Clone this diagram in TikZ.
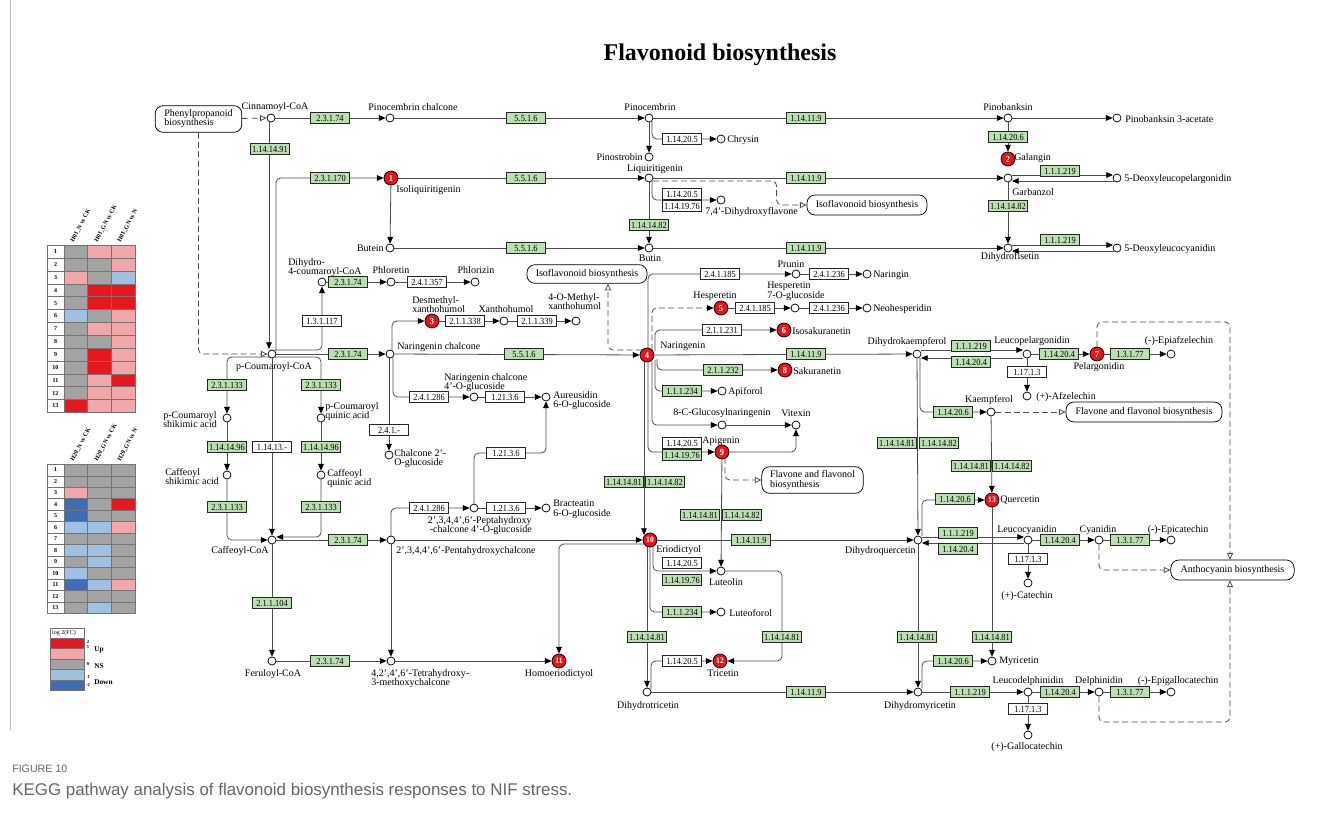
\documentclass[tikz,border=0pt]{standalone}
\usepackage{fontspec}
\setmainfont{Liberation Serif}
\newfontfamily\capfont{Liberation Sans}
\newfontfamily\enzfont[FakeStretch=0.9]{Liberation Serif}
\usetikzlibrary{arrows.meta,calc}
\definecolor{enzg}{HTML}{BADFB0}
\definecolor{hitred}{HTML}{E8141B}
\definecolor{lc}{HTML}{4D4D4D}
\definecolor{capgray}{HTML}{666666}
\definecolor{hmR}{HTML}{E8161D}
\definecolor{hmP}{HTML}{F2A7AA}
\definecolor{hmG}{HTML}{A3A3A3}
\definecolor{hmL}{HTML}{9DC0E3}
\definecolor{hmB}{HTML}{3E6DB5}
\pgfdeclarelayer{back}
\pgfdeclarelayer{bg}
\pgfsetlayers{back,bg,main}
\newcommand\cf{\fontsize{7.5}{6.9}\selectfont}
\tikzset{
 cpd/.style={circle,draw=black,fill=white,line width=0.55pt,minimum size=6pt,inner sep=0pt},
 hit/.style={circle,draw=black,fill=hitred,line width=0.55pt,minimum size=10.5pt,inner sep=0pt,text=white,font={\enzfont\fontsize{7}{7}\selectfont\bfseries}},
 enz/.style={draw=black!85,fill=enzg,line width=0.5pt,minimum width=29pt,minimum height=8.3pt,inner sep=0.6pt,font={\enzfont\fontsize{7}{7}\selectfont}},
 enzw/.style={enz,fill=white},
 lb/.style={inner sep=0pt,font=\cf},
 lbl/.style={lb,align=left},
 mapn/.style={draw=black,fill=white,rounded corners=6pt,line width=0.55pt,inner sep=0pt,font=\cf},
 ln/.style={draw=lc,line width=0.6pt,rounded corners=3.5pt},
 ar/.style={ln,-{Triangle[length=5pt,width=4.2pt,color=black]}},
 ds/.style={ln,dash pattern=on 4.5pt off 2.5pt},
 dsa/.style={ds,-{Triangle[length=5pt,width=4.2pt,color=black]}},
 dar/.style={ds,-{Triangle[open,length=5pt,width=4.5pt,fill=white]}},
 hmc/.style={draw=black!55,line width=0.4pt},
 hmn/.style={inner sep=0pt,font={\fontsize{4.5}{5}\selectfont\bfseries}},
 hmh/.style={inner sep=0pt,anchor=west,rotate=62,font={\fontsize{4.6}{5}\selectfont\bfseries}},
}
\begin{document}
\begin{tikzpicture}[x=0.75pt,y=-0.75pt]
\useasboundingbox (0,0) rectangle (1322,836);
\begin{pgfonlayer}{back}
\fill[white] (0,0) rectangle (1322,836);
\end{pgfonlayer}
\draw[black!25,line width=0.75pt] (10,0) -- (10,730);

% title and caption
\node[font={\fontsize{18}{20}\selectfont\bfseries}] (title) at (720,55) {Flavonoid biosynthesis};
\node[anchor=west,inner sep=0pt,font={\capfont\fontsize{8}{9}\selectfont},text=capgray] (fig) at (12,769) {FIGURE 10};
\node[anchor=west,inner sep=0pt,font={\capfont\fontsize{12.7}{14}\selectfont},text=capgray] (cap) at (12,791) {KEGG pathway analysis of flavonoid biosynthesis responses to NIF stress.};

% ---------- heatmap 1
\foreach \rr/\xa/\xb/\xc in {1/G/P/P,2/G/G/P,3/P/G/L,4/G/R/R,5/G/R/R,6/L/G/P,7/G/P/P,8/G/G/P,9/G/R/P,10/G/R/P,11/G/P/R,12/G/P/P,13/R/P/P}{
  \pgfmathsetmacro\yy{245.3+(\rr-1)*12.85}
  \path[hmc,fill=white] (47,\yy) rectangle ++(17,12.85);
  \path[hmc,fill=hm\xa] (64,\yy) rectangle ++(23.7,12.85);
  \path[hmc,fill=hm\xb] (87.7,\yy) rectangle ++(23.7,12.85);
  \path[hmc,fill=hm\xc] (111.4,\yy) rectangle ++(23.7,12.85);
  \node[hmn] (hmA\rr) at (55.5,{\yy+6.4}) {\rr};
}
\node[hmh] (hA1) at (72,242) {H01\_N vs CK};
\node[hmh] (hA2) at (96,242) {H01\_GN vs CK};
\node[hmh] (hA3) at (119,242) {H01\_GN vs N};
% ---------- heatmap 2
\foreach \rr/\xa/\xb/\xc in {1/G/G/G,2/G/G/G,3/P/G/G,4/B/G/R,5/B/G/G,6/L/L/P,7/G/G/G,8/L/L/G,9/G/L/G,10/L/G/G,11/B/L/P,12/G/G/G,13/G/L/G}{
  \pgfmathsetmacro\yy{464.3+(\rr-1)*11.46}
  \path[hmc,fill=white] (47,\yy) rectangle ++(17,11.46);
  \path[hmc,fill=hm\xa] (64,\yy) rectangle ++(23.7,11.46);
  \path[hmc,fill=hm\xb] (87.7,\yy) rectangle ++(23.7,11.46);
  \path[hmc,fill=hm\xc] (111.4,\yy) rectangle ++(23.7,11.46);
  \node[hmn] (hmB\rr) at (55.5,{\yy+5.7}) {\rr};
}
\node[hmh] (hB1) at (72,461) {H20\_N vs CK};
\node[hmh] (hB2) at (96,461) {H20\_GN vs CK};
\node[hmh] (hB3) at (119,461) {H20\_GN vs N};
% ---------- legend
\path[hmc,fill=white] (50,628) rectangle (84,638);
\node[inner sep=0pt,font={\fontsize{4.5}{5}\selectfont}] (lgT) at (64,633) {log 2(FC)};
\path[hmc,fill=hmR] (50,638) rectangle (84,648.5);
\path[hmc,fill=hmP] (50,648.5) rectangle (84,659);
\path[hmc,fill=hmG] (50,659) rectangle (84,669.5);
\path[hmc,fill=hmL] (50,669.5) rectangle (84,680);
\path[hmc,fill=hmB] (50,680) rectangle (84,690.5);
\node[hmn,font={\fontsize{3.5}{4}\selectfont\bfseries}] (lg2) at (88,642) {2};
\node[hmn,font={\fontsize{3.5}{4}\selectfont\bfseries}] (lg1) at (88,647) {1};
\node[hmn,font={\fontsize{3.5}{4}\selectfont\bfseries}] (lg0) at (88,664) {0};
\node[hmn,font={\fontsize{3.5}{4}\selectfont\bfseries}] (lgm1) at (88,677) {-1};
\node[hmn,font={\fontsize{3.5}{4}\selectfont\bfseries}] (lgm2) at (88,685) {-2};
\node[hmn,anchor=west,font={\fontsize{5.5}{6}\selectfont\bfseries}] (lgUp) at (94,650) {Up};
\node[hmn,anchor=west,font={\fontsize{5.5}{6}\selectfont\bfseries}] (lgNS) at (94,666) {NS};
\node[hmn,anchor=west,font={\fontsize{5.5}{6}\selectfont\bfseries}] (lgDn) at (94,682) {Down};

% ---------- maps
\node[mapn,minimum width=65pt,minimum height=20pt,align=left] (mPP) at (198.5,119) {Phenylpropanoid\\biosynthesis};
\node[mapn,minimum width=90pt,minimum height=15pt] (mIso1) at (867,205) {Isoflavonoid biosynthesis};
\node[mapn,minimum width=90pt,minimum height=14pt] (mIso2) at (587,274) {Isoflavonoid biosynthesis};
\node[mapn,minimum width=76pt,minimum height=20pt,align=left] (mFF1) at (812.5,480) {Flavone and flavonol\\biosynthesis};
\node[mapn,minimum width=117pt,minimum height=15pt] (mFF2) at (1144,412) {Flavone and flavonol biosynthesis};
\node[mapn,minimum width=92.5pt,minimum height=15pt] (mAnt) at (1232.5,570) {Anthocyanin biosynthesis};
\coordinate (antTR) at (1230,322);
\coordinate (antBR) at (1230,722);

% ---------- compounds
\node[cpd] (cCin) at (271,118) {};
\node[cpd] (cPcc) at (390,118) {};
\node[cpd] (cPin) at (649,118) {};
\node[cpd] (cPinb) at (1008,118) {};
\node[cpd] (cPin3) at (1117,118) {};
\node[cpd] (cChr) at (721,139) {};
\node[cpd] (cPstr) at (649,157) {};
\node[hit] (h2) at (1008,159) {2};
\node[hit] (h1) at (391,178) {1};
\node[cpd] (cLiq) at (649,178) {};
\node[cpd] (cDhf) at (721,200) {};
\node[cpd] (cGar) at (1008,178) {};
\node[cpd] (cDlp) at (1117,178) {};
\node[cpd] (cBut) at (390,248) {};
\node[cpd] (cBtn) at (649,248) {};
\node[cpd] (cDhfis) at (1008,248) {};
\node[cpd] (cDlc) at (1117,248) {};
\node[cpd] (cDhc) at (322,282) {};
\node[cpd] (cPhl) at (391,282) {};
\node[cpd] (cPhz) at (475,282) {};
\node[hit] (h3) at (432,321) {3};
\node[cpd] (cXan) at (504,321) {};
\node[cpd] (cMxan) at (576,321) {};
\node[cpd] (cPcoa) at (272,354) {};
\node[cpd] (cNch) at (390,354) {};
\node[hit] (h4) at (647,355) {4};
\node[cpd] (cPrun) at (796,274) {};
\node[cpd] (cNari) at (867,274) {};
\node[hit] (h5) at (721,308) {5};
\node[cpd] (cH7g) at (795,308) {};
\node[cpd] (cNeo) at (867,308) {};
\node[hit] (h6) at (784,330) {6};
\node[cpd] (cDhk) at (917,354) {};
\node[hit] (h8) at (785,370) {8};
\node[cpd] (cApi) at (722,391) {};
\node[cpd] (cCgn) at (722,425) {};
\node[cpd] (cVit) at (796,425) {};
\node[hit] (h9) at (722,452) {9};
\node[cpd] (cNcg) at (474,397) {};
\node[cpd] (cAur) at (546,397) {};
\node[cpd] (cC2g) at (389,455) {};
\node[cpd] (cPcsa) at (227,418) {};
\node[cpd] (cPcqa) at (321,418) {};
\node[cpd] (cCsa) at (227,475) {};
\node[cpd] (cCqa) at (321,475) {};
\node[cpd] (cCcoa) at (272,540) {};
\node[cpd] (cPhp) at (474,508) {};
\node[cpd] (cBra) at (546,508) {};
\node[cpd] (cPen) at (391,540) {};
\node[hit,font={\enzfont\fontsize{6.3}{6}\selectfont\bfseries}] (h10) at (650,540) {10};
\node[cpd] (cDhq) at (918,540) {};
\node[hit,font={\enzfont\fontsize{6.3}{6}\selectfont\bfseries}] (h13) at (992,500) {13};
\node[cpd] (cLcy) at (1028,540) {};
\node[cpd] (cCya) at (1099,540) {};
\node[cpd] (cEpc) at (1171,540) {};
\node[cpd] (cCat) at (1028,583) {};
\node[cpd] (cLut) at (721,571) {};
\node[cpd] (cLtf) at (721,612) {};
\node[cpd] (cFcoa) at (272,661) {};
\node[cpd] (cThm) at (391,661) {};
\node[hit,font={\enzfont\fontsize{6.3}{6}\selectfont\bfseries}] (h11) at (559,661) {11};
\node[hit,font={\enzfont\fontsize{6.3}{6}\selectfont\bfseries}] (h12) at (720,661) {12};
\node[cpd] (cMyr) at (992,661) {};
\node[cpd] (cDht) at (647,692) {};
\node[cpd] (cDhm) at (918,692) {};
\node[cpd] (cLdp) at (1028,692) {};
\node[cpd] (cDel) at (1099,692) {};
\node[cpd] (cEgc) at (1171,692) {};
\node[cpd] (cGal) at (1028,735) {};
\node[cpd] (cLpg) at (1027,354) {};
\node[hit] (h7) at (1097,354) {7};
\node[cpd] (cEpa) at (1171,354) {};
\node[cpd] (cAfz) at (1027,396) {};
\node[cpd] (cKae) at (991,412) {};

% ---------- enzymes
\node[enz] (e1) at (330,118) {2.3.1.74};
\node[enz] (e2) at (270,149) {1.14.14.91};
\node[enz] (e3) at (526,118) {5.5.1.6};
\node[enzw] (e4) at (682,139) {1.14.20.5};
\node[enz] (e5) at (806,118) {1.14.11.9};
\node[enz] (e6) at (1008,137) {1.14.20.6};
\node[enz] (e7) at (330,178) {2.3.1.170};
\node[enz] (e8) at (526,178) {5.5.1.6};
\node[enzw] (e9) at (682,194) {1.14.20.5};
\node[enzw] (e10) at (682,206) {1.14.19.76};
\node[enz] (e11) at (649,225) {1.14.14.82};
\node[enz] (e12) at (806,178) {1.14.11.9};
\node[enz] (e13) at (1060,171) {1.1.1.219};
\node[enz] (e14) at (1008,206) {1.14.14.82};
\node[enz] (e15) at (526,248) {5.5.1.6};
\node[enz] (e16) at (806,248) {1.14.11.9};
\node[enz] (e17) at (1060,240) {1.1.1.219};
\node[enz] (e18) at (348,282) {2.3.1.74};
\node[enzw] (e19) at (427,282) {2.4.1.357};
\node[enzw] (e20) at (322,321) {1.3.1.117};
\node[enzw] (e21) at (465,321) {2.1.1.338};
\node[enzw] (e22) at (537,321) {2.1.1.339};
\node[enz] (e23) at (348,354) {2.3.1.74};
\node[enz] (e24) at (524,354) {5.5.1.6};
\node[enzw] (e25) at (720,274) {2.4.1.185};
\node[enzw] (e26) at (829,274) {2.4.1.236};
\node[enzw] (e27) at (755,308) {2.4.1.185};
\node[enzw] (e28) at (829,308) {2.4.1.236};
\node[enzw] (e29) at (722,330) {2.1.1.231};
\node[enz] (e30) at (806,354) {1.14.11.9};
\node[enz] (e31) at (723,370) {2.1.1.232};
\node[enz] (e32) at (682,391) {1.1.1.234};
\node[enzw] (e33) at (682,443) {1.14.20.5};
\node[enz] (e34) at (682,455) {1.14.19.76};
\node[enz] (e35) at (227,385) {2.3.1.133};
\node[enz] (e36) at (321,385) {2.3.1.133};
\node[enzw] (e37) at (429,397) {2.4.1.286};
\node[enzw] (e38) at (505,397) {1.21.3.6};
\node[enzw] (e39) at (389,430) {2.4.1.-};
\node[enz] (e40) at (227,447) {1.14.14.96};
\node[enzw] (e41) at (272,447) {1.14.13.-};
\node[enz] (e42) at (321,447) {1.14.14.96};
\node[enz] (e43) at (227,507) {2.3.1.133};
\node[enz] (e44) at (321,507) {2.3.1.133};
\node[enzw] (e45) at (506,453) {1.21.3.6};
\node[enzw] (e46) at (429,508) {2.4.1.286};
\node[enzw] (e47) at (506,508) {1.21.3.6};
\node[enz] (e48) at (348,540) {2.3.1.74};
\node[enz] (e49) at (272,603) {2.1.1.104};
\node[enz] (e50) at (330,661) {2.3.1.74};
\node[enz] (e51) at (624,482) {1.14.14.81};
\node[enz] (e52) at (665,482) {1.14.14.82};
\node[enz] (e53) at (700,515) {1.14.14.81};
\node[enz] (e54) at (742,515) {1.14.14.82};
\node[enz] (e55) at (751,540) {1.14.11.9};
\node[enzw] (e56) at (682,563) {1.14.20.5};
\node[enz] (e57) at (682,580) {1.14.19.76};
\node[enz] (e58) at (682,612) {1.1.1.234};
\node[enz] (e59) at (647,637) {1.14.14.81};
\node[enz] (e60) at (782,637) {1.14.14.81};
\node[enzw] (e61) at (682,661) {1.14.20.5};
\node[enz] (e62) at (806,692) {1.14.11.9};
\node[enz] (e63) at (971,346) {1.1.1.219};
\node[enz] (e64) at (971,362) {1.14.20.4};
\node[enz] (e65) at (1059,354) {1.14.20.4};
\node[enz] (e66) at (1130,354) {1.3.1.77};
\node[enzw] (e67) at (1027,372) {1.17.1.3};
\node[enz] (e68) at (953,412) {1.14.20.6};
\node[enz] (e69) at (897,443) {1.14.14.81};
\node[enz] (e70) at (939,443) {1.14.14.82};
\node[enz] (e71) at (971,466) {1.14.14.81};
\node[enz] (e72) at (1012,466) {1.14.14.82};
\node[enz] (e73) at (955,499) {1.14.20.6};
\node[enz] (e74) at (958,533) {1.1.1.219};
\node[enz] (e75) at (958,549) {1.14.20.4};
\node[enz] (e76) at (1060,540) {1.14.20.4};
\node[enz] (e77) at (1130,540) {1.3.1.77};
\node[enzw] (e78) at (1028,559) {1.17.1.3};
\node[enz] (e79) at (917,637) {1.14.14.81};
\node[enz] (e80) at (992,637) {1.14.14.81};
\node[enz] (e81) at (953,661) {1.14.20.6};
\node[enz] (e82) at (970,692) {1.1.1.219};
\node[enz] (e83) at (1060,692) {1.14.20.4};
\node[enz] (e84) at (1130,692) {1.3.1.77};
\node[enzw] (e85) at (1028,709) {1.17.1.3};

% ---------- labels
\node[lb] (tCin) at (275,107) {Cinnamoyl-CoA};
\node[lb] (tPcc) at (413,107) {Pinocembrin chalcone};
\node[lb] (tPin) at (650,107) {Pinocembrin};
\node[lb] (tPinb) at (1008,107) {Pinobanksin};
\node[lb,anchor=west] (tPin3) at (1125,119) {Pinobanksin 3-acetate};
\node[lb,anchor=west] (tChr) at (727,140) {Chrysin};
\node[lb,anchor=east] (tPstr) at (643,157) {Pinostrobin};
\node[lb,anchor=west] (tGal) at (1014,158) {Galangin};
\node[lb,anchor=west] (tIsl) at (396,190) {Isoliquiritigenin};
\node[lb] (tLiq) at (655,169) {Liquiritigenin};
\node[lb,anchor=west] (tDhf) at (705,212) {7,4'-Dihydroxyflavone};
\node[lb,anchor=west] (tGar) at (1012,192) {Garbanzol};
\node[lb,anchor=west] (tDlp) at (1124,179) {5-Deoxyleucopelargonidin};
\node[lb,anchor=east] (tBut) at (384,248) {Butein};
\node[lb] (tBtn) at (650,258) {Butin};
\node[lb] (tDhfis) at (1010,257) {Dihydrofisetin};
\node[lb,anchor=west] (tDlc) at (1124,249) {5-Deoxyleucocyanidin};
\node[lbl,anchor=north west] (tDhc) at (288,258) {Dihydro-\\4-coumaroyl-CoA};
\node[lb] (tPhl) at (391,270) {Phloretin};
\node[lb] (tPhz) at (476,270) {Phlorizin};
\node[lbl,anchor=north west] (tH3) at (412,296) {Desmethyl-\\xanthohumol};
\node[lb] (tXan) at (506,309) {Xanthohumol};
\node[lbl,anchor=north west] (tMxan) at (548,293) {4-O-Methyl-\\xanthohumol};
\node[lb] (tPcoa) at (274,367) {p-Coumaroyl-CoA};
\node[lb,anchor=west] (tNch) at (397,347) {Naringenin chalcone};
\node[lb,anchor=west] (tH4) at (660,346) {Naringenin};
\node[lb] (tPrun) at (791,264) {Prunin};
\node[lb,anchor=west] (tNari) at (873,275) {Naringin};
\node[lb] (tH5) at (715,296) {Hesperetin};
\node[lbl,anchor=north west] (tH7g) at (767,282) {Hesperetin\\7-O-glucoside};
\node[lb,anchor=west] (tNeo) at (873,309) {Neohesperidin};
\node[lb,anchor=west] (tH6) at (792,331) {Isosakuranetin};
\node[lb] (tDhk) at (907,342) {Dihydrokaempferol};
\node[lb,anchor=west] (tH8) at (793,371) {Sakuranetin};
\node[lb,anchor=west] (tApi) at (728,392) {Apiforol};
\node[lb] (tCgn) at (722,413) {8-C-Glucosylnaringenin};
\node[lb] (tVit) at (796,413) {Vitexin};
\node[lb] (tH9) at (721,441) {Apigenin};
\node[lbl,anchor=north west] (tNcg) at (444,373) {Naringenin chalcone\\4'-O-glucoside};
\node[lbl,anchor=north west] (tAur) at (553,391) {Aureusidin\\6-O-glucoside};
\node[lbl,anchor=north west] (tC2g) at (394,449) {Chalcone 2'-\\O-glucoside};
\node[lbl,anchor=north west] (tPcsa) at (163,411) {p-Coumaroyl\\shikimic acid};
\node[lbl,anchor=north west] (tPcqa) at (325,402) {p-Coumaroyl\\quinic acid};
\node[lbl,anchor=north west] (tCsa) at (165,468) {Caffeoyl\\shikimic acid};
\node[lbl,anchor=north west] (tCqa) at (327,469) {Caffeoyl\\quinic acid};
\node[lb] (tCcoa) at (240,551) {Caffeoyl-CoA};
\node[lb,align=right,anchor=north east] (tPhp) at (532,516) {2',3,4,4',6'-Peptahydroxy\\-chalcone 4'-O-glucoside};
\node[lbl,anchor=north west] (tBra) at (553,500) {Bracteatin\\6-O-glucoside};
\node[lb,anchor=west] (tPen) at (396,551) {2',3,4,4',6'-Pentahydroxychalcone};
\node[lb,anchor=west] (tH10) at (656,550) {Eriodictyol};
\node[lb,anchor=east] (tDhq) at (916,551) {Dihydroquercetin};
\node[lb,anchor=west] (tH13) at (1000,500) {Quercetin};
\node[lb] (tLcy) at (1027,530) {Leucocyanidin};
\node[lb] (tCya) at (1098,530) {Cyanidin};
\node[lb] (tEpc) at (1178,530) {(-)-Epicatechin};
\node[lb] (tCat) at (1027,596) {(+)-Catechin};
\node[lb] (tLut) at (726,582) {Luteolin};
\node[lb,anchor=west] (tLtf) at (729,613) {Luteoforol};
\node[lb] (tFcoa) at (273,674) {Feruloyl-CoA};
\node[lbl,anchor=north west] (tThm) at (371,669) {4,2',4',6'-Tetrahydroxy-\\3-methoxychalcone};
\node[lb] (tH11) at (559,674) {Homoeriodictyol};
\node[lb] (tH12) at (723,673) {Tricetin};
\node[lb,anchor=west] (tMyr) at (999,661) {Myricetin};
\node[lb] (tDht) at (648,706) {Dihydrotricetin};
\node[lb] (tDhm) at (920,706) {Dihydromyricetin};
\node[lb] (tLdp) at (1028,681) {Leucodelphinidin};
\node[lb] (tDel) at (1099,681) {Delphinidin};
\node[lb] (tEgc) at (1178,681) {(-)-Epigallocatechin};
\node[lb] (tGalc) at (1027,747) {(+)-Gallocatechin};
\node[lb] (tLpg) at (1032,341) {Leucopelargonidin};
\node[lb] (tH7) at (1099,367) {Pelargonidin};
\node[lb] (tEpa) at (1179,341) {(-)-Epiafzelechin};
\node[lb,anchor=west] (tAfz) at (1036,397) {(+)-Afzelechin};
\node[lb] (tKae) at (989,400) {Kaempferol};

% ---------- connectors
\begin{pgfonlayer}{bg}
\draw[dar] (mPP) -- (cCin);
\draw[dar] (mPP.south) |- (cPcoa);
\draw[ar] (cCin) -- (cPcc);
\draw[ar] (cPcc) -- (cPin);
\draw[ar] (cPin) -- (cPinb);
\draw[ar] (cPinb) -- (cPin3);
\draw[ar] (cPin) -- (cPstr);
\draw[ar] ($(cPin)+(3,3)$) |- (cChr);
\draw[ar] (cPinb) -- (h2);
\draw[ar] ($(cCin)+(-2,4)$) -- ($(cPcoa)+(-3,-5)$);
\draw[ar] ($(cPcoa)+(4,-3)$) |- (h1);
\draw[ar] (h1) -- (cLiq);
\draw[ar] (cLiq) -- (cGar);
\draw[dar] ($(cLiq)+(4,3)$) -| ($(mIso1.west)+(-30,0)$) -- (mIso1.west);
\draw[ar] ($(cLiq)+(3,3)$) |- (cDhf);
\draw[ar] (cLiq) -- (cBtn);
\draw[ar] (h1) -- (cBut);
\draw[ar] (cBut) -- (cBtn);
\draw[ar] (cBtn) -- (cDhfis);
\draw[ar] (cGar) -- (cDhfis);
\draw[ar] ($(cGar)+(4,-3)$) -- ($(cDlp)+(-4,-3)$);
\draw[ar] ($(cDlp)+(-3,3)$) -- ($(cGar)+(4,3)$);
\draw[ar] ($(cDhfis)+(4,-3)$) -- ($(cDlc)+(-4,-3)$);
\draw[ar] ($(cDlc)+(-3,3)$) -- ($(cDhfis)+(4,3)$);
\draw[ar] ($(cPcoa)+(3,-4)$) -| (cDhc);
\draw[ar] (cPcoa) -- (cNch);
\draw[ar] ($(cPcoa)+(3,3)$) -| (cPcqa);
\draw[ar] ($(cPcoa)+(-3,3)$) -| (cPcsa);
\draw[ar] (cPcsa) -- (cCsa);
\draw[ar] (cPcqa) -- (cCqa);
\draw[ar] (cCsa) |- (cCcoa);
\draw[ar] (cCqa) |- ($(cCcoa.east)+(0,-3)$);
\draw[ar] (cPcoa) -- (cCcoa);
\draw[ar] (cCcoa) -- (cPen);
\draw[ar] (cCcoa) -- (cFcoa);
\draw[ar] (cFcoa) -- (cThm);
\draw[ar] (cPen) -- (cThm);
\draw[ar] (cThm) -- (h11);
\draw[ar] (cPen) -- (h10);
\draw[ar] ($(cPen)+(0,-3)$) |- (cPhp);
\draw[ar] (cPhp) -- (cBra);
\draw[ar] (cPhp) |- (e45.center) -| (cAur);
\draw[ar] (cNch) -- (h4);
\draw[ar] ($(cNch)+(2,-3)$) |- (h3);
\draw[ar] (h3) -- (cXan);
\draw[ar] (cXan) -- (cMxan);
\draw[ar] ($(cNch)+(3,3)$) |- (cNcg);
\draw[ar] (cNcg) -- (cAur);
\draw[ar] ($(cNch)+(-1,4)$) -- (cC2g);
\draw[ar] (cDhc) -- (cPhl);
\draw[ar] (cPhl) -- (cPhz);
% naringenin
\draw[ar] (h4) -- (cDhk);
\draw[ar] ($(h4)+(1,-6)$) |- (cPrun);
\draw[ar] (cPrun) -- (cNari);
\draw[dsa] ($(h4)+(5,-5)$) |- (h5);
\draw[ar] (h5) -- (cH7g);
\draw[ar] (cH7g) -- (cNeo);
\draw[ar] ($(h4)+(8,-4)$) |- (h6);
\draw[dar] ($(h4)+(-5,-5)$) -| ($(mIso2.south)+(21,0)$);
\draw[ar] ($(h4)+(10,4)$) |- (h8);
\draw[ar] ($(h4)+(8,5)$) |- (cApi);
\draw[ar] ($(h4)+(5,6)$) |- (cCgn);
\draw[ar] (cCgn) -- (cVit);
\draw[ar] ($(h4)+(1,6)$) |- (h9);
\draw[ar] ($(h4)+(-3,6)$) -- ($(h10)+(-6,-5)$);
% apigenin
\draw[ar] (h9) -| (cVit);
\draw[dar] ($(h9)+(3,6)$) |- (mFF1.west);
\draw[ar] (h9) -- (cLut);
% eriodictyol
\draw[ar] (h10) -- (cDhq);
\draw[ar] ($(h10)+(3,6)$) |- (cLut);
\draw[ar] ($(h10)+(0,7)$) |- (cLtf);
\draw[ar] ($(h10)+(-3,6)$) -- (cDht);
\draw[ar] ($(h10)+(-6,4)$) -| (h11);
\draw[ar] ($(cDht)+(4,-3)$) |- (h12);
\draw[ar] (cLut) -| (e60.center) |- (h12);
\draw[ar] (cDht) -- (cDhm);
% dihydrokaempferol
\draw[ar] ($(cDhk)+(4,-4)$) -- ($(cLpg)+(-4,-4)$);
\draw[ar] ($(cLpg)+(-4,4)$) -- ($(cDhk)+(4,4)$);
\draw[ar] (cLpg) -- (h7);
\draw[ar] (h7) -- (cEpa);
\draw[ar] (cLpg) -- (cAfz);
\draw[dar] (h7) |- (antTR) -- (antTR |- mAnt.north);
\draw[ar] ($(cDhk)+(3,4)$) |- (cKae);
\draw[dar] (cKae) -- (mFF2);
\draw[ar] (cDhk) -- (cDhq);
\draw[ar] (cKae) -- (h13);
\draw[ar] ($(cDhq)+(4,-4)$) |- (h13);
\draw[ar] ($(cDhq)+(4,-3)$) -- ($(cLcy)+(-4,-3)$);
\draw[ar] ($(cLcy)+(-4,3)$) -- ($(cDhq)+(4,3)$);
\draw[ar] (cLcy) -- (cCya);
\draw[ar] (cCya) -- (cEpc);
\draw[ar] (cLcy) -- (cCat);
\draw[dar] (cCya) |- (mAnt.west);
\draw[ar] (h13) -- (cMyr);
\draw[ar] (cDhq) -- (cDhm);
\draw[ar] ($(cDhm)+(4,-4)$) |- (cMyr);
\draw[ar] (cDhm) -- (cLdp);
\draw[ar] (cLdp) -- (cDel);
\draw[ar] (cDel) -- (cEgc);
\draw[ar] (cLdp) -- (cGal);
\draw[dar] (cDel) |- (antBR) -- (antBR |- mAnt.south);
\end{pgfonlayer}
\end{tikzpicture}
\end{document}
